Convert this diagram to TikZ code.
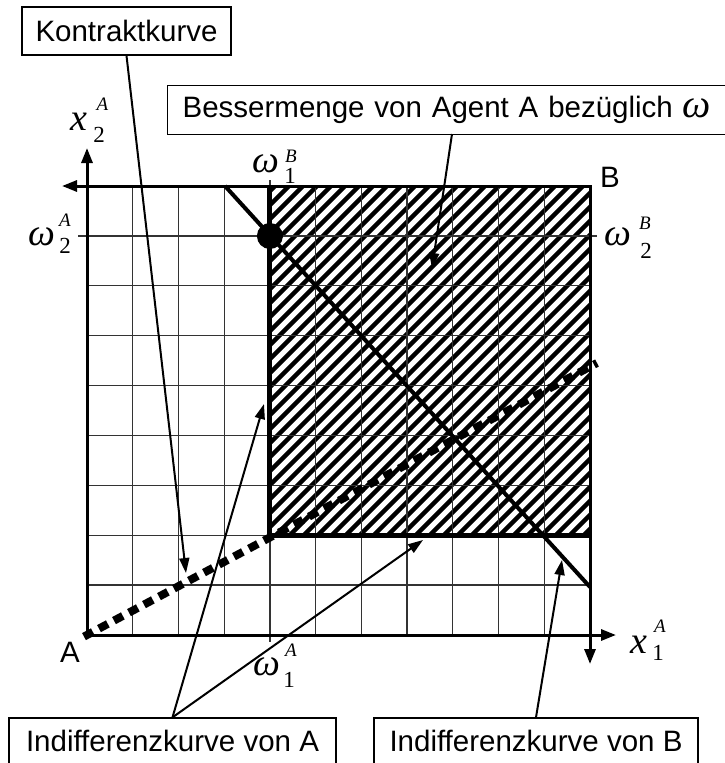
\documentclass[tikz,border=0pt]{standalone}
\usepackage{fontspec}
\setmainfont{Liberation Sans}
\newfontfamily\tms{Liberation Serif}
\usetikzlibrary{arrows.meta}
\newcommand\myfs[1]{\fontsize{#1pt}{#1pt}\selectfont}
\begin{document}
\begin{tikzpicture}[x=1pt,y=-1pt,
  lbl/.style={font=\myfs{29.5}, inner sep=0pt},
  box/.style={draw, line width=1.3pt, font=\myfs{29.5}, inner sep=0pt},
  grd/.style={line width=1.3pt, black!80},
  axisline/.style={line width=3pt, -{Triangle[length=15pt,width=11pt]}},
  lead/.style={line width=2pt, -{Triangle[length=15pt,width=10pt]}},
  mi/.style={font=\tms\itshape\myfs{38}, inner sep=0pt},
  supl/.style={font=\tms\itshape\myfs{19}, inner sep=0pt},
  subl/.style={font=\tms\myfs{23}, inner sep=0pt},
]
\fill[white] (0,0) rectangle (724,763);
\useasboundingbox (0,0) rectangle (724,763);

% hatching of the better set
\begin{scope}
  \clip (269.9,186) rectangle (590,535.2);
  \foreach \i in {0,...,50}
    \draw[line width=4.5pt] ({-90+\i*14},537) -- ++(400,-400);
\end{scope}

% grid
\foreach \k in {1,...,10}
  \draw[grd] ({87+\k*45.727},186) -- ({87+\k*45.727},635);
\foreach \k in {1,...,8}
  \draw[grd] (87,{186+\k*49.889}) -- (590,{186+\k*49.889});
% ticks
\draw[grd] (78,235.9) -- (87,235.9);
\draw[grd] (590,235.9) -- (597,235.9);
\draw[grd] (269.9,180) -- (269.9,186);
\draw[grd] (269.9,635) -- (269.9,642);

% border of better set
\draw[line width=5pt] (269.9,186) -- (269.9,535.2) -- (590,535.2);

% Edgeworth box and axes
\coordinate (O) at (87,635);
\coordinate (YT) at (87,148);
\coordinate (XT) at (616,635);
\coordinate (Bc) at (590,186);
\coordinate (BL) at (62,186);
\coordinate (BD) at (590,664);
\draw[line width=3pt] (87,186) rectangle (590,635);
\draw[axisline] (O) -- (YT);
\draw[axisline] (O) -- (XT);
\draw[axisline] (Bc) -- (BL);
\draw[axisline] (Bc) -- (BD);

% contract curve
\coordinate (CE) at (597,363);
\draw[line width=8pt, dash pattern=on 10pt off 7pt] (84,636.6) -- (CE);

% indifference curve of B
\coordinate (IB1) at (225,186);
\coordinate (IB2) at (590,587);
\draw[line width=4pt] (IB1) -- (IB2);

% endowment
\fill (269.9,236) circle (13);

% corner labels
\node[lbl] (labB) at (610,177) {B};
\node[lbl] (labA) at (70,652) {A};

% math labels
\node[mi] (x2) at (79,121.5) {x};
\node[supl] (x2s) at (102.5,104.5) {A};
\node[subl] (x2i) at (99,134.5) {2};

\node[mi] (w2A) at (42,236.5) {ω};
\node[supl] (w2As) at (65,220) {A};
\node[subl] (w2Ai) at (65,246) {2};

\node[mi] (w1B) at (266,164) {ω};
\node[supl] (w1Bs) at (291,156) {B};
\node[subl] (w1Bi) at (290,176) {1};

\node[mi] (w2B) at (618,237) {ω};
\node[supl] (w2Bs) at (645,223) {B};
\node[subl] (w2Bi) at (646,251) {2};

\node[mi] (w1A) at (267,666.5) {ω};
\node[supl] (w1As) at (291,650.5) {A};
\node[subl] (w1Ai) at (289,680) {1};

\node[mi] (x1) at (638.5,644.5) {x};
\node[supl] (x1s) at (660,626) {A};
\node[subl] (x1i) at (658,652.5) {1};

% boxes
\node[box, minimum width=209pt, minimum height=48pt] (kk) at (126.5,31) {Kontraktkurve};
\node[box, anchor=north west, minimum height=49pt, text width=570pt, align=left, inner xsep=15pt] (bm) at (167,85)
  {Bessermenge von Agent A bezüglich {\tms\itshape\myfs{40}ω}};
\node[box, minimum width=327pt, minimum height=50pt, text depth=5pt] (ia) at (172.5,743) {Indifferenzkurve von A};
\node[box, minimum width=324pt, minimum height=50pt, text depth=5pt] (ib) at (536,743) {Indifferenzkurve von B};

% leaders
\coordinate (kkT) at (186,573);
\coordinate (bmS) at (452,134);
\coordinate (bmT) at (432,268);
\coordinate (iaT1) at (264,404);
\coordinate (iaT2) at (423,540);
\coordinate (ibT) at (562,560);
\draw[lead] (kk.south) -- (kkT);
\draw[lead] (bmS) -- (bmT);
\draw[lead] (ia.north) -- (iaT1);
\draw[lead] (ia.north) -- (iaT2);
\draw[lead] (ib.north) -- (ibT);
\end{tikzpicture}
\end{document}
